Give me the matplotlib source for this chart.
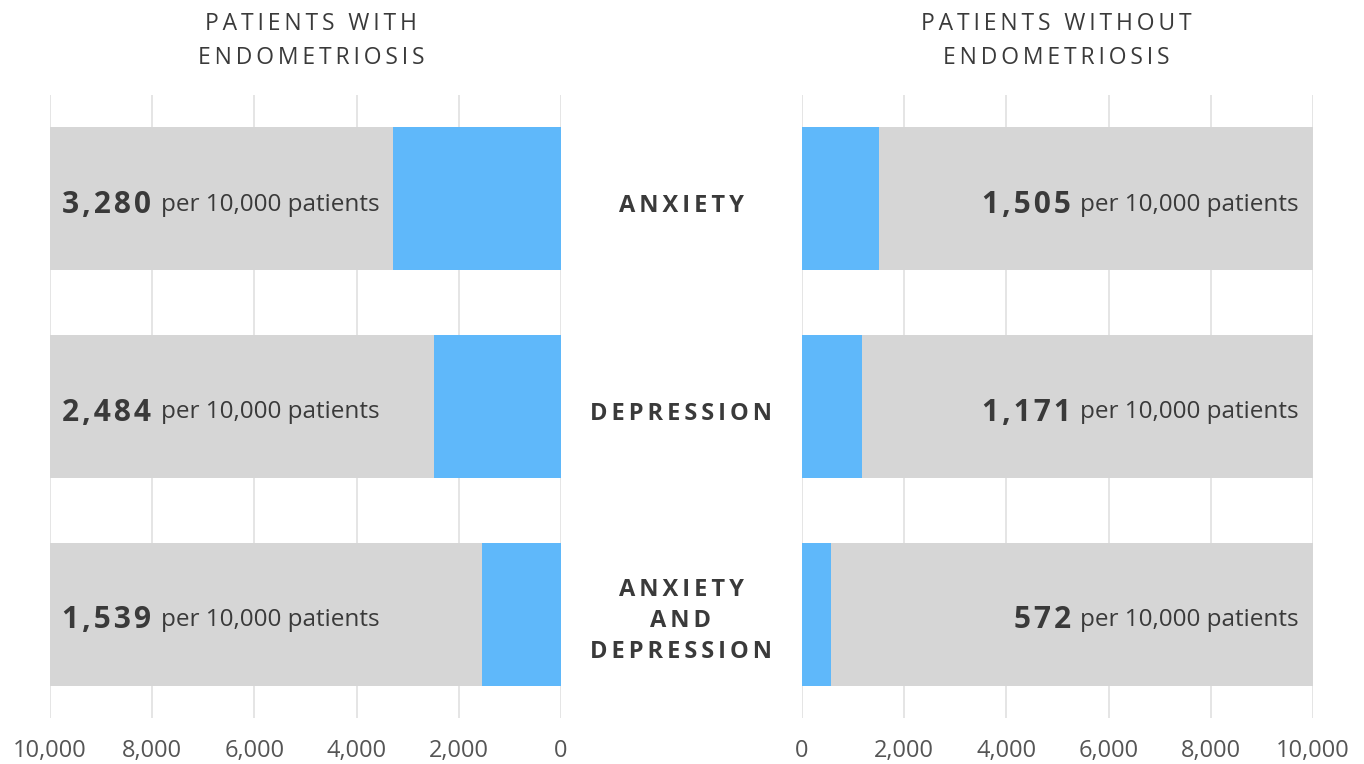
import matplotlib
matplotlib.use("Agg")
import matplotlib.pyplot as plt
import matplotlib.transforms as mtransforms

categories = ["ANXIETY", "DEPRESSION", "ANXIETY\nAND\nDEPRESSION"]
with_endo = [3280, 2484, 1539]
without_endo = [1505, 1171, 572]
total = 10000
ticks = [0, 2000, 4000, 6000, 8000, 10000]
tick_labels = ["0", "2,000", "4,000", "6,000", "8,000", "10,000"]

GRAY = "#d6d6d6"
BLUE = "#5fb8fa"
TEXT = "#3a3a3a"
GRID = "#e0e0e0"
FONT = "Open Sans"

plt.rcParams["font.family"] = [FONT, "DejaVu Sans"]


def spaced(s, sep="\u200a"):
    # fake letter spacing
    return "\n".join(sep.join(line) for line in s.split("\n"))


fig = plt.figure(figsize=(13.64, 7.64), dpi=100)
ax_l = fig.add_axes([50 / 1364, 46 / 764, 511 / 1364, 623 / 764])
ax_r = fig.add_axes([802 / 1364, 46 / 764, 511 / 1364, 623 / 764])

ys = list(range(len(categories)))
for ax, vals in [(ax_l, with_endo), (ax_r, without_endo)]:
    ax.barh(ys, [total] * len(ys), height=0.69, color=GRAY, zorder=2)
    ax.barh(ys, vals, height=0.69, color=BLUE, zorder=3)
    ax.set_xlim(0, total)
    ax.set_ylim(2.5, -0.5)
    ax.set_xticks(ticks)
    ax.set_xticklabels(tick_labels, fontsize=17, color="#555555")
    ax.set_yticks([])
    ax.tick_params(axis="x", length=0, pad=15)
    ax.grid(axis="x", color=GRID, linewidth=1.2, zorder=1)
    for s in ax.spines.values():
        s.set_visible(False)
ax_l.invert_xaxis()

fig.text(311 / 1364, 1 - 41 / 764, spaced("PATIENTS WITH\nENDOMETRIOSIS", "\u2006"), ha="center",
         va="center", fontsize=16.5, color=TEXT, linespacing=1.6)
fig.text(1056 / 1364, 1 - 41 / 764, spaced("PATIENTS WITHOUT\nENDOMETRIOSIS", "\u2006"), ha="center",
         va="center", fontsize=16.5, color=TEXT, linespacing=1.6)

mid = mtransforms.blended_transform_factory(fig.transFigure, ax_l.transData)
for y, cat in zip(ys, categories):
    dy = -3 if "\n" not in cat else 0
    tr = mtransforms.offset_copy(mid, fig=fig, y=dy, units="points")
    fig.text(681 / 1364, y, spaced(cat, "\u2006"), ha="center", va="center_baseline", fontsize=17,
             fontweight="bold", color=TEXT, linespacing=1.4, transform=tr)

fig.canvas.draw()
renderer = fig.canvas.get_renderer()

# left panel: bold number then regular text
for y, v in zip(ys, with_endo):
    t = ax_l.annotate(spaced(f"{v:,}"), xy=(total, y), xytext=(9, -2), textcoords="offset points",
                      ha="left", va="center_baseline", fontsize=21.5, fontweight="bold", color=TEXT)
    bb = t.get_window_extent(renderer)
    ax_l.annotate("per 10,000 patients", xy=(total, y), xytext=(9 + bb.width * 72 / 100 + 7, -2),
                  textcoords="offset points", ha="left", va="center_baseline", fontsize=17.5, color=TEXT)

# right panel: right aligned
for y, v in zip(ys, without_endo):
    t = ax_r.annotate("per 10,000 patients", xy=(total, y), xytext=(-10, -2), textcoords="offset points",
                      ha="right", va="center_baseline", fontsize=17.5, color=TEXT)
    bb = t.get_window_extent(renderer)
    ax_r.annotate(spaced(f"{v:,}"), xy=(total, y), xytext=(-10 - bb.width * 72 / 100 - 7, -2),
                  textcoords="offset points", ha="right", va="center_baseline", fontsize=21.5,
                  fontweight="bold", color=TEXT)

fig.savefig("out.png", dpi=100, facecolor="white")
